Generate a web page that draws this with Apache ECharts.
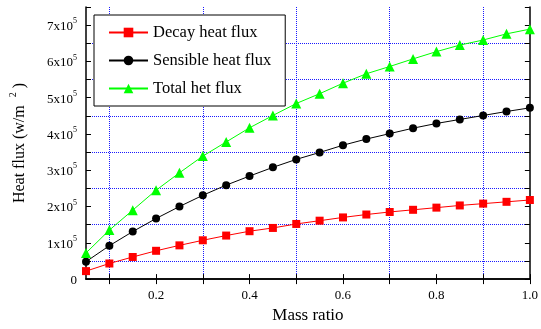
<!DOCTYPE html>
<html>
<head>
<meta charset="utf-8">
<script src="https://cdn.jsdelivr.net/npm/echarts@6/dist/echarts.min.js"></script>
<style>
  html, body { margin: 0; padding: 0; background: #fff; }
  #chart { width: 541px; height: 329px; }
</style>
</head>
<body>
<div id="chart"></div>
<script>
// data
const massRatio = [0.05, 0.1, 0.15, 0.2, 0.25, 0.3, 0.35, 0.4, 0.45, 0.5,
                   0.55, 0.6, 0.65, 0.7, 0.75, 0.8, 0.85, 0.9, 0.95, 1.0];
const decayFlux = [22000, 43000, 61000, 78000, 93000, 107000, 120000, 132000, 141000, 152000,
                   161000, 170000, 178000, 185000, 191000, 197000, 203000, 208000, 213000, 218000];
const sensibleFlux = [48000, 92000, 131000, 167000, 200000, 231000, 259000, 284000, 308000, 330000,
                      349000, 369000, 386000, 401000, 416000, 429000, 440000, 451000, 462000, 472000];
const totalFlux = [72000, 135000, 190000, 245000, 293000, 339000, 378000, 417000, 451000, 484000,
                   511000, 540000, 566000, 586000, 607000, 627000, 645000, 659000, 676000, 689000];

const xTicks = [0.1, 0.2, 0.3, 0.4, 0.5, 0.6, 0.7, 0.8, 0.9, 1.0];
const xLabels = [0.2, 0.4, 0.6, 0.8, 1.0];
const xGrid = [0.1, 0.3, 0.5, 0.7, 0.9];
const yTicks = [0, 50000, 100000, 150000, 200000, 250000, 300000, 350000, 400000,
                450000, 500000, 550000, 600000, 650000, 700000, 750000];
const yLabels = [0, 100000, 200000, 300000, 400000, 500000, 600000, 700000];
const yGrid = [50000, 150000, 250000, 350000, 450000, 550000, 650000];

const FONT = 'Liberation Serif';
const gridLine = { show: true, lineStyle: { color: '#1a1aff', width: 1, type: [1, 1] } };

const toPairs = (vals) => massRatio.map((x, i) => [x, vals[i]]);

const chart = echarts.init(document.getElementById('chart'));

// shared pieces for the axes
const xBase = { type: 'value', min: 0.05, max: 1.0 };
const yBase = { type: 'value', min: 0, max: 750000 };

chart.setOption({
  animation: false,
  backgroundColor: '#fff',
  textStyle: { fontFamily: FONT },
  grid: { left: 84, right: 8, top: 7, bottom: 49 },
  legend: {
    orient: 'vertical',
    left: 94,
    top: 15,
    backgroundColor: '#fff',
    borderColor: '#000',
    borderWidth: 1,
    borderRadius: 0,
    padding: [9, 14, 9, 14],
    itemWidth: 39,
    itemHeight: 12,
    itemGap: 11,
    textStyle: { fontFamily: FONT, fontSize: 16.5, color: '#000' },
    data: ['Decay heat flux', 'Sensible heat flux', 'Total het flux']
  },
  xAxis: [
    {
      ...xBase,
      position: 'bottom',
      name: 'Mass ratio',
      nameLocation: 'middle',
      nameGap: 27,
      nameTextStyle: { fontFamily: FONT, fontSize: 17, color: '#000' },
      axisLine: { show: true, lineStyle: { color: '#000', width: 1.5 } },
      axisTick: { show: true, inside: true, length: 5, customValues: xTicks, lineStyle: { color: '#000' } },
      axisLabel: {
        customValues: xLabels,
        margin: 10,
        fontFamily: FONT, fontSize: 13, color: '#000',
        formatter: v => v.toFixed(1)
      },
      splitLine: { show: false }
    },
    {
      // blue dotted verticals
      ...xBase,
      position: 'bottom',
      axisLine: { show: false },
      axisTick: { show: false, customValues: xGrid },
      axisLabel: { show: false },
      splitLine: gridLine
    },
    {
      ...xBase,
      position: 'top',
      axisLine: { show: true, lineStyle: { color: '#000', width: 1.5 } },
      axisTick: { show: true, inside: true, length: 5, customValues: xTicks, lineStyle: { color: '#000' } },
      axisLabel: { show: false },
      splitLine: { show: false }
    }
  ],
  yAxis: [
    {
      ...yBase,
      position: 'left',
      name: '{t|Heat flux (w/m  }{sup|2}{t| )}',
      nameLocation: 'middle',
      nameRotate: 90,
      nameGap: 58,
      nameTextStyle: {
        fontFamily: FONT, color: '#000',
        rich: {
          t: { fontFamily: FONT, fontSize: 16, color: '#000', lineHeight: 20, verticalAlign: 'bottom' },
          sup: { fontFamily: FONT, fontSize: 10, color: '#000', lineHeight: 20, verticalAlign: 'top', padding: [0, 0, 8, 0] }
        }
      },
      axisLine: { show: true, lineStyle: { color: '#000', width: 1.5 } },
      axisTick: { show: true, inside: true, length: 5, customValues: yTicks, lineStyle: { color: '#000' } },
      axisLabel: {
        customValues: yLabels,
        margin: 9,
        fontFamily: FONT, color: '#000',
        formatter: v => v === 0 ? '{b|0}' : '{b|' + Math.round(v / 100000) + 'x10}{s|5}',
        rich: {
          b: { fontFamily: FONT, fontSize: 13, color: '#000', lineHeight: 16, verticalAlign: 'bottom' },
          s: { fontFamily: FONT, fontSize: 8, color: '#000', lineHeight: 16, verticalAlign: 'top' }
        }
      },
      splitLine: { show: false }
    },
    {
      // blue dotted horizontals
      ...yBase,
      position: 'left',
      axisLine: { show: false },
      axisTick: { show: false, customValues: yGrid },
      axisLabel: { show: false },
      splitLine: gridLine
    },
    {
      ...yBase,
      position: 'right',
      axisLine: { show: true, lineStyle: { color: '#000', width: 1.5 } },
      axisTick: { show: true, inside: true, length: 5, customValues: yTicks, lineStyle: { color: '#000' } },
      axisLabel: { show: false },
      splitLine: { show: false }
    }
  ],
  series: [
    {
      name: 'Decay heat flux',
      type: 'line',
      data: toPairs(decayFlux),
      symbol: 'rect',
      symbolSize: 8,
      lineStyle: { color: '#ff0000', width: 1 },
      itemStyle: { color: '#ff0000' }
    },
    {
      name: 'Sensible heat flux',
      type: 'line',
      data: toPairs(sensibleFlux),
      symbol: 'circle',
      symbolSize: 8,
      lineStyle: { color: '#000', width: 1 },
      itemStyle: { color: '#000' }
    },
    {
      name: 'Total het flux',
      type: 'line',
      data: toPairs(totalFlux),
      symbol: 'triangle',
      symbolSize: 10,
      lineStyle: { color: '#00ff00', width: 1 },
      itemStyle: { color: '#00ff00' }
    }
  ]
});
</script>
</body>
</html>
